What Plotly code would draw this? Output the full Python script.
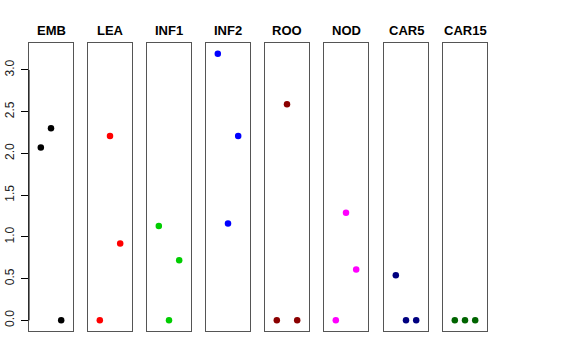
import plotly.graph_objects as go

panels = ["EMB", "LEA", "INF1", "INF2", "ROO", "NOD", "CAR5", "CAR15"]
colors = ["#000000", "#FF0000", "#00CD00", "#0000FF", "#8B0000", "#FF00FF", "#000080", "#006400"]
positions = [1, 2, 3]
values = {
    "EMB":   [2.07, 2.30, 0.00],
    "LEA":   [0.00, 2.21, 0.92],
    "INF1":  [1.13, 0.00, 0.72],
    "INF2":  [3.195, 1.16, 2.21],
    "ROO":   [0.00, 2.59, 0.00],
    "NOD":   [0.00, 1.29, 0.61],
    "CAR5":  [0.54, 0.00, 0.00],
    "CAR15": [0.00, 0.00, 0.00],
}
yticks = [0.0, 0.5, 1.0, 1.5, 2.0, 2.5, 3.0]
ytick_labels = ["0.0", "0.5", "1.0", "1.5", "2.0", "2.5", "3.0"]

W, H = 576, 360
lefts = [29, 88, 147, 206, 265, 324, 384, 443]
pw = 44
top, bottom = 43, 331
ydom = [(H - bottom) / H, (H - top) / H]
yrange = [-0.128, 3.323]
xrange_ = [-0.16, 4.16]
title_y = 30

fig = go.Figure()
layout = dict(width=W, height=H, margin=dict(l=0, r=0, t=0, b=0, autoexpand=False),
              paper_bgcolor="white", plot_bgcolor="white", showlegend=False,
              font=dict(family="Liberation Sans, Arial, sans-serif", color="black"))
annotations = []
for i, name in enumerate(panels):
    k = "" if i == 0 else str(i + 1)
    fig.add_trace(go.Scatter(x=positions, y=values[name], mode="markers",
                             marker=dict(color=colors[i], size=6.5),
                             xaxis="x" + k, yaxis="y" + k, hoverinfo="skip"))
    layout["xaxis" + k] = dict(domain=[lefts[i] / W, (lefts[i] + pw) / W], range=xrange_,
                               showgrid=False, zeroline=False, showticklabels=False,
                               ticks="", showline=True, mirror=True, linecolor="#555555",
                               linewidth=1, anchor="y" + k, fixedrange=True, automargin=False)
    ya = dict(domain=ydom, range=yrange, showgrid=False, zeroline=False,
              showline=True, mirror=True, linecolor="#555555", linewidth=1,
              anchor="x" + k, fixedrange=True, automargin=False)
    if i == 0:
        ya.update(tickvals=yticks, ticktext=ytick_labels, ticks="outside", ticklen=7,
                  tickcolor="black", tickangle=-90, tickfont=dict(size=12, color="#222"),
                  showticklabels=True, ticklabelstandoff=2)
    else:
        ya.update(showticklabels=False, ticks="")
    layout["yaxis" + k] = ya
    annotations.append(dict(text="<b>" + name + "</b>", xref="paper", yref="paper",
                            x=(lefts[i] + pw / 2) / W, y=(H - title_y) / H,
                            xanchor="center", yanchor="middle", showarrow=False,
                            font=dict(size=13, color="black")))
layout["annotations"] = annotations
layout["shapes"] = [dict(type="line", xref="paper", yref="y", x0=lefts[0] / W, x1=lefts[0] / W,
                         y0=yticks[0], y1=yticks[-1], line=dict(color="black", width=1))]
fig.update_layout(**layout)
fig.write_html("out.html", config={"displayModeBar": False, "staticPlot": True},
               post_script="document.body.style.margin='0';document.body.style.overflow='hidden';")
